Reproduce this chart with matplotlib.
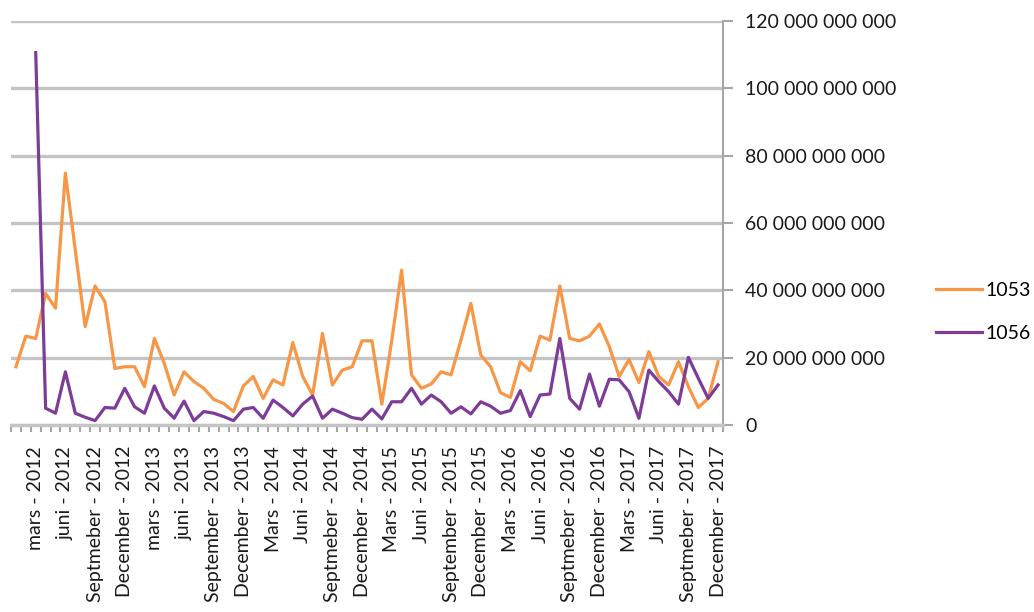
# Monthly values for 1053 and 1056, Jan 2012 - Dec 2017
import matplotlib.pyplot as plt
import numpy as np

plt.rcParams['font.family'] = ['Lato', 'DejaVu Sans']

# values in billions
s1053 = [17.3, 26.4, 25.7, 39.1, 34.7, 74.8, 52.0, 29.2, 41.3, 36.6, 16.8, 17.3,
         17.3, 11.4, 25.7, 18.3, 8.9, 15.8, 12.9, 10.9, 7.6, 6.4, 4.0, 11.6,
         14.4, 7.9, 13.4, 11.9, 24.5, 14.4, 8.9, 27.2, 11.9, 16.3, 17.3, 25.0,
         25.0, 6.2, 25.0, 46.0, 14.9, 10.9, 12.2, 15.8, 14.9, 25.2, 36.1, 20.8,
         17.3, 9.6, 8.2, 18.8, 16.1, 26.4, 25.2, 41.3, 25.7, 25.0, 26.4, 30.0,
         23.3, 14.4, 19.5, 12.6, 21.8, 14.4, 11.9, 18.8, 11.4, 5.2, 7.9, 18.8]
s1056 = [np.nan, np.nan, 110.6, 5.0, 3.5, 15.8, 3.5, 2.3, 1.3, 5.2, 5.0, 10.9,
         5.4, 3.5, 11.6, 5.0, 2.0, 7.1, 1.3, 4.0, 3.5, 2.5, 1.3, 4.7,
         5.2, 2.0, 7.4, 5.2, 2.7, 6.2, 8.6, 2.0, 4.7, 3.5, 2.2, 1.7,
         4.7, 1.8, 6.9, 6.9, 10.9, 6.2, 8.9, 6.9, 3.5, 5.4, 3.3, 6.9,
         5.6, 3.5, 4.3, 10.2, 2.5, 8.9, 9.2, 25.7, 7.9, 4.7, 15.1, 5.6,
         13.6, 13.4, 9.9, 2.0, 16.3, 12.9, 9.9, 6.2, 20.1, 13.9, 7.9, 11.9]

tick_labels = ['mars - 2012', 'juni - 2012', 'Septmeber - 2012', 'December - 2012',
               'mars - 2013', 'juni - 2013', 'September - 2013', 'December - 2013',
               'Mars - 2014', 'Juni - 2014', 'Septmeber - 2014', 'December - 2014',
               'Mars - 2015', 'Juni - 2015', 'September - 2015', 'December - 2015',
               'Mars - 2016', 'Juni - 2016', 'Septmeber - 2016', 'December - 2016',
               'Mars - 2017', 'Juni - 2017', 'Septmeber - 2017', 'December - 2017']

x = np.arange(len(s1053))
y1 = np.array(s1053) * 1e9
y2 = np.array(s1056) * 1e9

fig = plt.figure(figsize=(10.34, 6.12), dpi=100)
ax = fig.add_axes([11/1034, 1 - 425/612, 712/1034, 404/612])

ax.plot(x, y1, color='#F79646', lw=2.3, label='1053', zorder=3)
ax.plot(x, y2, color='#7D3C98', lw=2.3, label='1056', zorder=4)

ax.set_xlim(-0.5, 71.5)
ax.set_ylim(0, 120e9)

# y axis on the right, gray gridlines
ax.yaxis.tick_right()
yt = np.arange(0, 121e9, 20e9)
ax.set_yticks(yt)
ax.set_yticklabels(['{:,.0f}'.format(v).replace(',', ' ') for v in yt],
                   fontsize=14, ha='left', color='#1a1a1a')
ax.tick_params(axis='y', which='major', length=7, width=1.5, color='#a6a6a6', pad=9)
ax.grid(axis='y', color='#c4c4c4', lw=2.4)
ax.set_axisbelow(True)

# labels every third month, small ticks on every month boundary
ax.set_xticks(x[2::3])
ax.set_xticklabels(tick_labels, rotation=90, fontsize=14, color='#1a1a1a')
ax.set_xticks(np.arange(-0.5, 72, 1), minor=True)
ax.tick_params(axis='x', which='major', length=0, pad=15)
ax.tick_params(axis='x', which='minor', length=5, width=1.5, color='#a6a6a6')

for s in ['top', 'left']:
    ax.spines[s].set_visible(False)
ax.spines['right'].set_color('#a6a6a6')
ax.spines['right'].set_linewidth(1.5)
ax.spines['bottom'].set_color('#c4c4c4')
ax.spines['bottom'].set_linewidth(2.4)

ax.legend(loc='center left', bbox_to_anchor=(907/712, 0.28), frameon=False,
          fontsize=14, handlelength=2.4, handletextpad=0.15, labelspacing=1.35)

fig.savefig('out.png', dpi=100)
